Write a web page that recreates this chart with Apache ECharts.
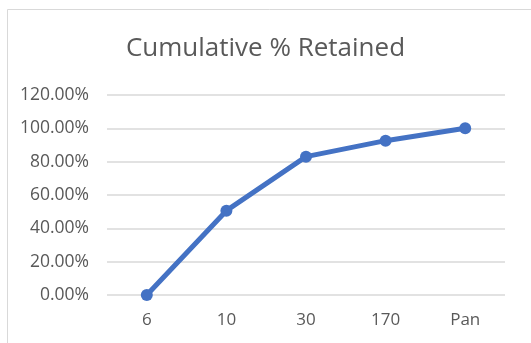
<!DOCTYPE html>
<html>
<head>
<meta charset="utf-8">
<style>
  html, body { margin: 0; padding: 0; background: #fff; }
  #chart { width: 531px; height: 343px; }
</style>
<script src="https://cdn.jsdelivr.net/npm/echarts@6/dist/echarts.min.js"></script>
</head>
<body>
<div id="chart"></div>
<script>
// Sieve sizes and cumulative percentage retained on each
const sieves = ['6', '10', '30', '170', 'Pan'];
const cumulativeRetained = [0, 50.6, 83.0, 92.6, 100];
const yTicks = { min: 0, max: 120, step: 20 };

const chart = echarts.init(document.getElementById('chart'), null, { renderer: 'canvas' });
const textColor = '#595959';
const font = 'Open Sans';

chart.setOption({
  animation: false,
  backgroundColor: '#ffffff',
  title: {
    text: 'Cumulative % Retained',
    left: 'center',
    top: 31,
    textStyle: { fontFamily: font, fontSize: 26, fontWeight: 'normal', color: textColor }
  },
  graphic: [{
    type: 'rect',
    shape: { x: 7.5, y: 9.5, width: 540, height: 350 },
    style: { fill: 'none', stroke: '#d9d9d9', lineWidth: 1 },
    silent: true
  }],
  grid: { left: 107, right: 26, top: 95, bottom: 48, containLabel: false },
  xAxis: {
    type: 'category',
    data: sieves,
    boundaryGap: true,
    axisLine: { show: false },
    axisTick: { show: false },
    axisLabel: { color: textColor, fontFamily: font, fontSize: 17, margin: 17 }
  },
  yAxis: {
    type: 'value',
    min: yTicks.min,
    max: yTicks.max,
    interval: yTicks.step,
    axisLine: { show: false },
    axisTick: { show: false },
    splitLine: { lineStyle: { color: '#d9d9d9', width: 1.5 } },
    axisLabel: {
      color: textColor, fontFamily: font, fontSize: 17.5, margin: 18,
      formatter: v => v.toFixed(2) + '%'
    }
  },
  series: [{
    type: 'line',
    data: cumulativeRetained,
    symbol: 'circle',
    symbolSize: 12,
    lineStyle: { color: '#4472c4', width: 5 },
    itemStyle: { color: '#4472c4' }
  }]
});
</script>
</body>
</html>
